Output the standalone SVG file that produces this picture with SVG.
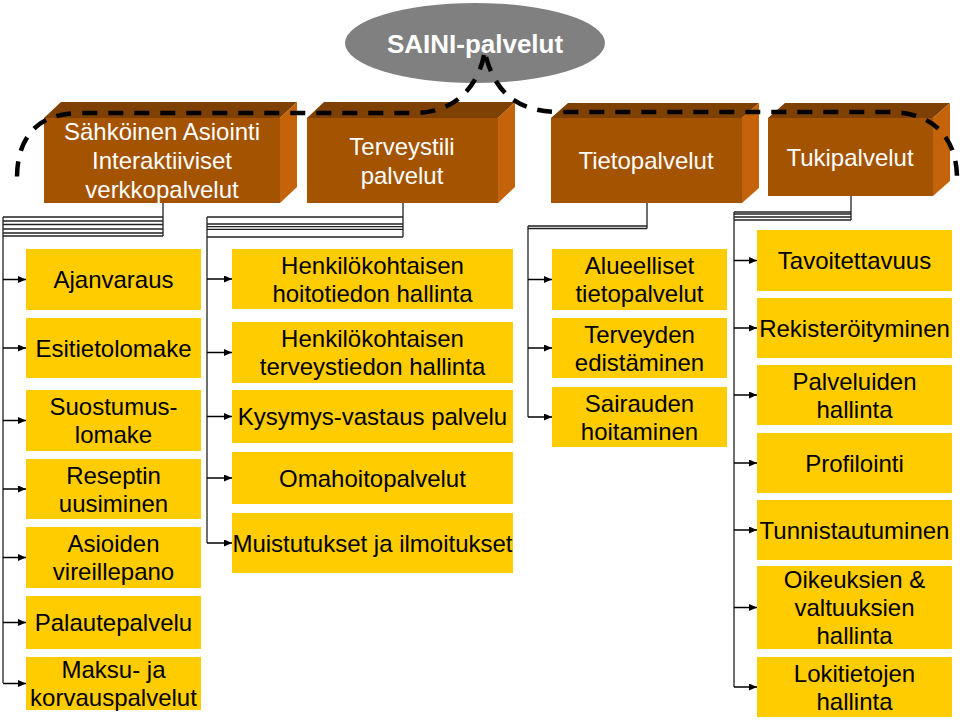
<svg xmlns="http://www.w3.org/2000/svg" width="960" height="723" viewBox="0 0 960 723">
<defs>
<marker id="ah" markerUnits="userSpaceOnUse" markerWidth="9" markerHeight="8" refX="8" refY="3.5" orient="auto"><path d="M0,0 L8,3.5 L0,7 z" fill="#000"/></marker>
<style>
.leaf{fill:#FFCC00}
.lt{font-family:"Liberation Sans",Arial,sans-serif;font-size:24px;fill:#000;text-anchor:middle}
.ht{font-family:"Liberation Sans",Arial,sans-serif;font-size:24px;fill:#fff;text-anchor:middle}
.front{fill:#A45300}
.top{fill:#7E4003}
.side{fill:#C46309}
.arr{stroke:#000;stroke-width:1.5;fill:none;marker-end:url(#ah)}
.rail{stroke:#222;stroke-width:1.3;fill:none}
.dash{stroke:#000;stroke-width:4.5;fill:none;stroke-dasharray:15 11}
</style>
</defs>
<rect width="960" height="723" fill="#fff"/>

<g id="saini">
<ellipse cx="475" cy="43" rx="130" ry="40" fill="#808080"/>
<text x="475" y="53" font-family="Liberation Sans, Arial, sans-serif" font-size="26" font-weight="bold" fill="#fff" text-anchor="middle">SAINI-palvelut</text>
</g>

<g id="h1">
<polygon class="top" points="44,118 61,102 297,102 280,118"/>
<polygon class="side" points="280,118 297,102 297,187 280,203"/>
<rect class="front" x="44" y="118" width="236" height="85"/>
<text class="ht" x="162" y="140">Sähköinen Asiointi</text>
<text class="ht" x="162" y="169">Interaktiiviset</text>
<text class="ht" x="162" y="198">verkkopalvelut</text>
</g>
<g id="h2">
<polygon class="top" points="307,118 324,102 515,102 498,118"/>
<polygon class="side" points="498,118 515,102 515,187 498,203"/>
<rect class="front" x="307" y="118" width="191" height="85"/>
<text class="ht" x="402" y="155">Terveystili</text>
<text class="ht" x="402" y="184">palvelut</text>
</g>
<g id="h3">
<polygon class="top" points="551,118 568,103 759,103 742,118"/>
<polygon class="side" points="742,118 759,103 759,188 742,203"/>
<rect class="front" x="551" y="118" width="191" height="85"/>
<text class="ht" x="646" y="169">Tietopalvelut</text>
</g>
<g id="h4">
<polygon class="top" points="768,118 785,103 950,103 933,118"/>
<polygon class="side" points="933,118 950,103 950,181 933,196"/>
<rect class="front" x="768" y="118" width="165" height="78"/>
<text class="ht" x="850" y="166">Tukipalvelut</text>
</g>

<g id="connectors">
<path class="dash" d="M484,55 C479,82 458,113 415,113 L80,113 C35,113 17,140 17,178"/>
<path class="dash" d="M486,57 C495,90 515,112 560,112 L890,112 C935,112 957,140 957,178"/>

<!-- column 1 rails -->
<path class="rail" d="M163,203 V236 M3,217 H163 M3,221 H163 M3,224.5 H163 M3,229 H163 M3,233 H163 M3,236 H163 M3,217 V683"/>
<line class="arr" x1="3" y1="279.5" x2="26" y2="279.5"/>
<line class="arr" x1="3" y1="348" x2="26" y2="348"/>
<line class="arr" x1="3" y1="420.5" x2="26" y2="420.5"/>
<line class="arr" x1="3" y1="489" x2="26" y2="489"/>
<line class="arr" x1="3" y1="557.5" x2="26" y2="557.5"/>
<line class="arr" x1="3" y1="622.5" x2="26" y2="622.5"/>
<line class="arr" x1="3" y1="683.5" x2="26" y2="683.5"/>

<!-- column 2 rails -->
<path class="rail" d="M403,203 V237 M207,217 H403 M207,224 H403 M207,226.7 H403 M207,229.3 H403 M207,237 H403 M207,217 V543"/>
<line class="arr" x1="207" y1="279" x2="232" y2="279"/>
<line class="arr" x1="207" y1="352.5" x2="232" y2="352.5"/>
<line class="arr" x1="207" y1="416.5" x2="232" y2="416.5"/>
<line class="arr" x1="207" y1="478" x2="232" y2="478"/>
<line class="arr" x1="207" y1="543" x2="232" y2="543"/>

<!-- column 3 rails -->
<path class="rail" d="M647,203 V228.5 M528,226 H647 M528,228.5 H647 M528,226 V417"/>
<line class="arr" x1="528" y1="279.5" x2="552" y2="279.5"/>
<line class="arr" x1="528" y1="348" x2="552" y2="348"/>
<line class="arr" x1="528" y1="417" x2="552" y2="417"/>

<!-- column 4 rails -->
<path class="rail" d="M851,196 V220 M734,212 H851 M734,214 H851 M734,217 H851 M734,220 H851 M734,212 V687"/>
<line class="arr" x1="734" y1="260.5" x2="757" y2="260.5"/>
<line class="arr" x1="734" y1="328" x2="757" y2="328"/>
<line class="arr" x1="734" y1="395" x2="757" y2="395"/>
<line class="arr" x1="734" y1="463" x2="757" y2="463"/>
<line class="arr" x1="734" y1="530" x2="757" y2="530"/>
<line class="arr" x1="734" y1="607.5" x2="757" y2="607.5"/>
<line class="arr" x1="734" y1="687" x2="757" y2="687"/>
</g>

<!-- column 1 -->
<g id="ajanvaraus"><rect class="leaf" x="26" y="249" width="175" height="61"/><text class="lt" x="113.5" y="288">Ajanvaraus</text></g>
<g id="esitietolomake"><rect class="leaf" x="26" y="318" width="175" height="60"/><text class="lt" x="113.5" y="356.5">Esitietolomake</text></g>
<g id="suostumuslomake"><rect class="leaf" x="26" y="390" width="175" height="61"/><text class="lt" x="113.5" y="415">Suostumus-</text><text class="lt" x="113.5" y="443">lomake</text></g>
<g id="reseptin"><rect class="leaf" x="26" y="459" width="175" height="60"/><text class="lt" x="113.5" y="483.5">Reseptin</text><text class="lt" x="113.5" y="511.5">uusiminen</text></g>
<g id="asioiden"><rect class="leaf" x="26" y="527" width="175" height="61"/><text class="lt" x="113.5" y="552">Asioiden</text><text class="lt" x="113.5" y="580">vireillepano</text></g>
<g id="palautepalvelu"><rect class="leaf" x="26" y="596" width="175" height="53"/><text class="lt" x="113.5" y="631">Palautepalvelu</text></g>
<g id="maksu"><rect class="leaf" x="26" y="657" width="175" height="53"/><text class="lt" x="113.5" y="678">Maksu- ja</text><text class="lt" x="113.5" y="706">korvauspalvelut</text></g>

<!-- column 2 -->
<g id="hoitotieto"><rect class="leaf" x="232" y="249" width="281" height="60"/><text class="lt" x="372.5" y="273.5">Henkilökohtaisen</text><text class="lt" x="372.5" y="301.5">hoitotiedon hallinta</text></g>
<g id="terveystieto"><rect class="leaf" x="232" y="322" width="281" height="61"/><text class="lt" x="372.5" y="347">Henkilökohtaisen</text><text class="lt" x="372.5" y="375">terveystiedon hallinta</text></g>
<g id="kysymys"><rect class="leaf" x="232" y="390" width="281" height="53"/><text class="lt" x="372.5" y="425">Kysymys-vastaus palvelu</text></g>
<g id="omahoito"><rect class="leaf" x="232" y="452" width="281" height="52"/><text class="lt" x="372.5" y="486.5">Omahoitopalvelut</text></g>
<g id="muistutukset"><rect class="leaf" x="232" y="513" width="281" height="60"/><text class="lt" x="372.5" y="551.5">Muistutukset ja ilmoitukset</text></g>

<!-- column 3 -->
<g id="alueelliset"><rect class="leaf" x="552" y="249" width="175" height="61"/><text class="lt" x="639.5" y="274">Alueelliset</text><text class="lt" x="639.5" y="302">tietopalvelut</text></g>
<g id="terveyden"><rect class="leaf" x="552" y="318" width="175" height="60"/><text class="lt" x="639.5" y="342.5">Terveyden</text><text class="lt" x="639.5" y="370.5">edistäminen</text></g>
<g id="sairauden"><rect class="leaf" x="552" y="387" width="175" height="60"/><text class="lt" x="639.5" y="411.5">Sairauden</text><text class="lt" x="639.5" y="439.5">hoitaminen</text></g>

<!-- column 4 -->
<g id="tavoitettavuus"><rect class="leaf" x="757" y="230" width="195" height="61"/><text class="lt" x="854.5" y="269">Tavoitettavuus</text></g>
<g id="rekisteroityminen"><rect class="leaf" x="757" y="298" width="195" height="60"/><text class="lt" x="854.5" y="336.5">Rekisteröityminen</text></g>
<g id="palveluiden"><rect class="leaf" x="757" y="365" width="195" height="60"/><text class="lt" x="854.5" y="389.5">Palveluiden</text><text class="lt" x="854.5" y="417.5">hallinta</text></g>
<g id="profilointi"><rect class="leaf" x="757" y="433" width="195" height="60"/><text class="lt" x="854.5" y="471.5">Profilointi</text></g>
<g id="tunnistautuminen"><rect class="leaf" x="757" y="500" width="195" height="60"/><text class="lt" x="854.5" y="538.5">Tunnistautuminen</text></g>
<g id="oikeuksien"><rect class="leaf" x="757" y="566" width="195" height="83"/><text class="lt" x="854.5" y="588">Oikeuksien &amp;</text><text class="lt" x="854.5" y="616">valtuuksien</text><text class="lt" x="854.5" y="644">hallinta</text></g>
<g id="lokitietojen"><rect class="leaf" x="757" y="657" width="195" height="60"/><text class="lt" x="854.5" y="681.5">Lokitietojen</text><text class="lt" x="854.5" y="709.5">hallinta</text></g>
</svg>
